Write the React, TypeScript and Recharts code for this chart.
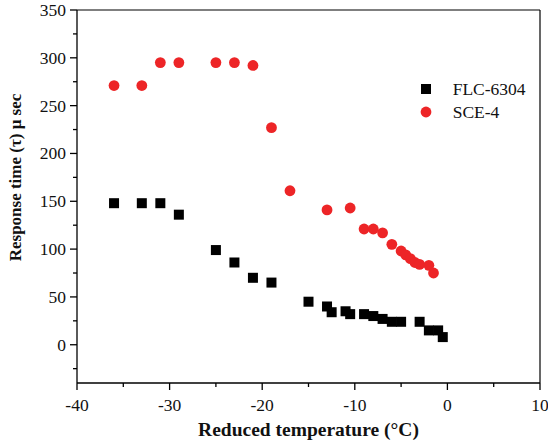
import React from "react";
import { ScatterChart, Scatter, XAxis, YAxis, ReferenceLine, Legend, Label } from "recharts";

// Reduced temperature (°C) and response time (µs) — FLC-6304
const flcTemp = [-36, -33, -31, -29, -25, -23, -21, -19, -15, -13, -12.5, -11, -10.5, -9, -8, -7, -6, -5, -3, -2, -1, -0.5];
const flcResp = [148, 148, 148, 136, 99, 86, 70, 65, 45, 40, 34, 35, 32, 32, 30, 27, 24, 24, 24, 15, 15, 8];

// SCE-4
const sceTemp = [-36, -33, -31, -29, -25, -23, -21, -19, -17, -13, -10.5, -9, -8, -7, -6, -5, -4.5, -4, -3.5, -3, -2, -1.5];
const sceResp = [271, 271, 295, 295, 295, 295, 292, 227, 161, 141, 143, 121, 121, 117, 105, 98, 94, 90, 86, 84, 83, 75];

const xTicks = [-40, -35, -30, -25, -20, -15, -10, -5, 0, 5, 10];
const yTicks = [-25, 0, 25, 50, 75, 100, 125, 150, 175, 200, 225, 250, 275, 300, 325, 350];

const seriesNames = ["FLC-6304", "SCE-4"];
const RED = "#ED2527";
const FONT = "'Liberation Serif', 'Times New Roman', serif";

const flcData = flcTemp.map((t, i) => ({ t, r: flcResp[i] }));
const sceData = sceTemp.map((t, i) => ({ t, r: sceResp[i] }));

const Square = (p: any) => (
  <rect x={p.cx - 5} y={p.cy - 5} width={10} height={10} fill="#000" />
);
const Dot = (p: any) => <circle cx={p.cx} cy={p.cy} r={5.4} fill={RED} />;

const XTick = (props: any) => {
  const { x, y, payload } = props;
  const v = payload.value;
  const major = v % 10 === 0;
  return (
    <g>
      <line x1={x} x2={x} y1={y} y2={y + (major ? 7 : 4)} stroke="#000" strokeWidth={1.3} />
      {major && (
        <text x={x} y={y + 27.5} textAnchor="middle" fontFamily={FONT} fontSize={17.5} fill="#111">
          {String(v)}
        </text>
      )}
    </g>
  );
};

const YTick = (props: any) => {
  const { x, y, payload } = props;
  const v = payload.value;
  const major = v % 50 === 0;
  return (
    <g>
      <line x1={x - (major ? 7 : 4)} x2={x} y1={y} y2={y} stroke="#000" strokeWidth={1.3} />
      {major && (
        <text x={x - 11} y={y} dy="0.34em" textAnchor="end" fontFamily={FONT} fontSize={17.5} fill="#111">
          {String(v)}
        </text>
      )}
    </g>
  );
};

const YTitle = (props: any) => {
  const vb = props.viewBox;
  const cx = vb.x + 7;
  const cy = vb.y + vb.height / 2 - 19;
  return (
    <text
      x={cx}
      y={cy}
      textAnchor="middle"
      dominantBaseline="central"
      transform={`rotate(-90, ${cx}, ${cy})`}
      fontFamily={FONT}
      fontWeight="bold"
      fontSize={17}
      fill="#111"
    >
      Response time (τ) μ sec
    </text>
  );
};

const XTitle = (props: any) => {
  const vb = props.viewBox;
  return (
    <text
      x={vb.x + vb.width / 2}
      y={vb.y + 53}
      textAnchor="middle"
      fontFamily={FONT}
      fontWeight="bold"
      fontSize={19.5}
      fill="#111"
    >
      Reduced temperature (°C)
    </text>
  );
};

const LegendBox = () => (
  <div style={{ fontFamily: FONT, fontSize: 17.5, color: "#111" }}>
    {seriesNames.map((n, i) => (
      <div key={n} style={{ display: "flex", alignItems: "center", height: 23 }}>
        <svg width={12} height={12} style={{ marginRight: 20.7 }}>
          {i === 0 ? (
            <rect x={1} y={1} width={10} height={10} fill="#000" />
          ) : (
            <circle cx={6} cy={6} r={5.4} fill={RED} />
          )}
        </svg>
        <span>{n}</span>
      </div>
    ))}
  </div>
);

export default function App() {
  return (
    <div style={{ position: "absolute", left: 0, top: 0, width: 548, height: 446 }}>
      <ScatterChart width={548} height={446} margin={{ top: 10, right: 8, bottom: 0, left: 8 }}>
        <XAxis
          type="number"
          dataKey="t"
          domain={[-40, 10]}
          ticks={xTicks}
          interval={0}
          allowDataOverflow
          height={63}
          tickSize={0}
          tickMargin={0}
          tickLine={false}
          tick={<XTick />}
          axisLine={{ stroke: "#000", strokeWidth: 1.3 }}
        >
          <Label content={<XTitle />} />
        </XAxis>
        <YAxis
          type="number"
          dataKey="r"
          domain={[-40, 350]}
          ticks={yTicks}
          interval={0}
          allowDataOverflow
          width={69}
          tickSize={0}
          tickMargin={0}
          tickLine={false}
          tick={<YTick />}
          axisLine={{ stroke: "#000", strokeWidth: 1.3 }}
        >
          <Label content={<YTitle />} />
        </YAxis>
        <ReferenceLine y={350} stroke="#000" strokeWidth={1.2} />
        <ReferenceLine x={10} stroke="#000" strokeWidth={1.2} />
        <Legend
          layout="horizontal"
          verticalAlign="middle"
          align="center"
          content={<LegendBox />}
          wrapperStyle={{ left: 420, top: 77.5, width: "auto", bottom: "auto", right: "auto" }}
        />
        <Scatter name={seriesNames[0]} data={flcData} shape={<Square />} isAnimationActive={false} />
        <Scatter name={seriesNames[1]} data={sceData} shape={<Dot />} isAnimationActive={false} />
      </ScatterChart>
    </div>
  );
}
